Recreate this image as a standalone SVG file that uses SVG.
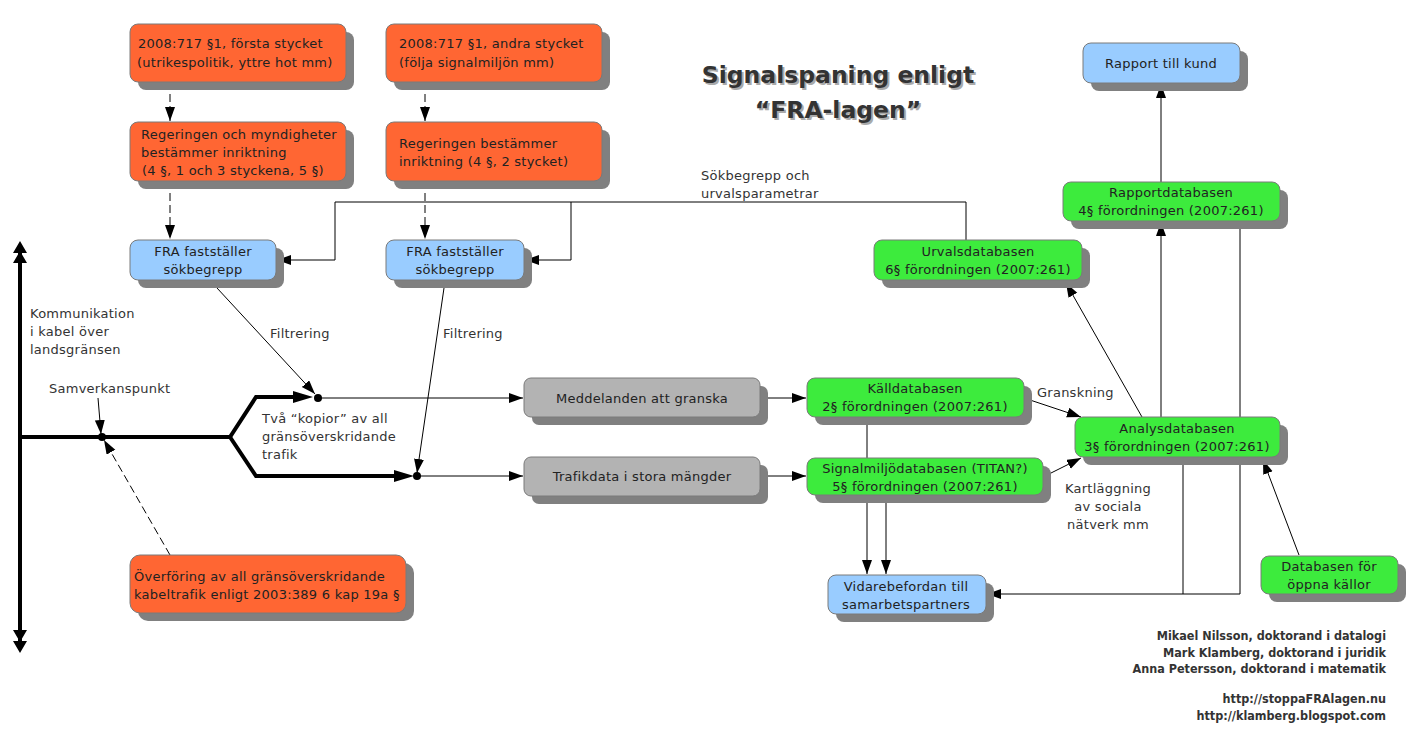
<svg xmlns="http://www.w3.org/2000/svg" width="1426" height="733" viewBox="0 0 1426 733">
<defs>
<style>
.box{stroke:#7a7a7a;stroke-width:1}
.sh{fill:#808080}
.or{fill:#FF6633}
.bl{fill:#99CCFF}
.gr{fill:#3DEB3D}
.gy{fill:#B3B3B3}
.t{font-family:"DejaVu Sans",sans-serif;font-size:13px;letter-spacing:0.25px;fill:#222}
.c{text-anchor:middle}
.lbl{font-family:"DejaVu Sans",sans-serif;font-size:13px;letter-spacing:0.25px;fill:#333}
.ln{fill:none;stroke:#000;stroke-width:1}
.ds{stroke-dasharray:8,4}
.thick{fill:none;stroke:#000;stroke-width:4}
.title{font-family:"DejaVu Sans",sans-serif;font-weight:bold;font-size:23.5px;text-anchor:middle}
.sig{font-family:"DejaVu Sans Condensed","DejaVu Sans",sans-serif;font-stretch:condensed;font-weight:bold;font-size:12.5px;fill:#333;text-anchor:end}
</style>
<marker id="arr" markerUnits="userSpaceOnUse" markerWidth="16" markerHeight="12" refX="14" refY="5" orient="auto">
<path d="M0,0 L14,5 L0,10 z" fill="#000"/>
</marker>
</defs>

<g id="connectors">
<line class="ln ds" x1="170" y1="82" x2="170" y2="121" marker-end="url(#arr)"/>
<line class="ln ds" x1="170" y1="181" x2="170" y2="239" marker-end="url(#arr)"/>
<line class="ln ds" x1="425" y1="82" x2="425" y2="121" marker-end="url(#arr)"/>
<line class="ln ds" x1="425" y1="181" x2="425" y2="239" marker-end="url(#arr)"/>
<polyline class="ln" points="966,240 966,202 335,202 335,260 277,260" marker-end="url(#arr)"/>
<polyline class="ln" points="571,202 571,260 525,260" marker-end="url(#arr)"/>
<line class="ln" x1="217" y1="288" x2="315" y2="394" marker-end="url(#arr)"/>
<line class="ln" x1="444" y1="288" x2="417" y2="473" marker-end="url(#arr)"/>
<line class="ln" x1="318" y1="398" x2="523" y2="398" marker-end="url(#arr)"/>
<line class="ln" x1="417" y1="476" x2="523" y2="476" marker-end="url(#arr)"/>
<line class="ln" x1="760" y1="398" x2="806" y2="398" marker-end="url(#arr)"/>
<line class="ln" x1="760" y1="476" x2="806" y2="476" marker-end="url(#arr)"/>
<line class="ln" x1="867" y1="417" x2="867" y2="458"/>
<line class="ln" x1="867" y1="495" x2="867" y2="574" marker-end="url(#arr)"/>
<line class="ln" x1="886" y1="495" x2="886" y2="574" marker-end="url(#arr)"/>
<line class="ln" x1="1024" y1="398" x2="1081" y2="417" marker-end="url(#arr)"/>
<line class="ln" x1="1043" y1="477" x2="1081" y2="458" marker-end="url(#arr)"/>
<line class="ln" x1="1142" y1="417" x2="1066" y2="283" marker-end="url(#arr)"/>
<line class="ln" x1="1161" y1="417" x2="1161" y2="222" marker-end="url(#arr)"/>
<line class="ln" x1="1161" y1="182" x2="1161" y2="84" marker-end="url(#arr)"/>
<polyline class="ln" points="1240,221 1240,594 987,594" marker-end="url(#arr)"/>
<line class="ln" x1="1183" y1="457" x2="1183" y2="594"/>
<line class="ln" x1="1299" y1="555" x2="1263" y2="460" marker-end="url(#arr)"/>
<line class="ln" x1="98" y1="398" x2="101" y2="434" marker-end="url(#arr)"/>
<line class="ln ds" x1="170" y1="555" x2="104" y2="440" marker-end="url(#arr)"/>
<line class="thick" x1="20" y1="250" x2="20" y2="644"/>
<polyline class="thick" points="20,437 230,437 256,397 300,397"/>
<polyline class="thick" points="230,437 256,476 400,476"/>
<path d="M293,391 L313,397 L293,403 z M394,470 L414,476 L394,482 z" fill="#000"/>
<path d="M13,253 L20,241 L27,253 z M13,263 L20,251 L27,263 z M13,630 L20,642 L27,630 z M13,641 L20,653 L27,641 z" fill="#000"/>
<circle cx="318" cy="398" r="4" fill="#000"/>
<circle cx="417" cy="476" r="4" fill="#000"/>
<circle cx="102" cy="437" r="4" fill="#000"/>
</g>

<g id="title">
<text class="title" x="840" y="85" fill="#aaa">Signalspaning enligt</text>
<text class="title" x="838" y="83" fill="#333">Signalspaning enligt</text>
<text class="title" x="840" y="120" fill="#aaa">“FRA-lagen”</text>
<text class="title" x="838" y="118" fill="#333">“FRA-lagen”</text>
</g>

<g id="n-lag1">
<rect class="sh" x="138" y="32" width="216" height="58" rx="8"/>
<rect class="box or" x="130" y="24" width="216" height="58" rx="8"/>
<text class="t" x="138" y="48">2008:717 §1, första stycket</text>
<text class="t" x="137" y="67">(utrikespolitik, yttre hot mm)</text>
</g>
<g id="n-lag2">
<rect class="sh" x="394" y="32" width="216" height="58" rx="8"/>
<rect class="box or" x="386" y="24" width="216" height="58" rx="8"/>
<text class="t" x="399" y="48">2008:717 §1, andra stycket</text>
<text class="t" x="399" y="67">(följa signalmiljön mm)</text>
</g>
<g id="n-reg1">
<rect class="sh" x="138" y="130" width="216" height="59" rx="8"/>
<rect class="box or" x="130" y="122" width="216" height="59" rx="8"/>
<text class="t" x="141" y="139">Regeringen och myndigheter</text>
<text class="t" x="141" y="157">bestämmer inriktning</text>
<text class="t" x="142" y="175">(4 §, 1 och 3 styckena, 5 §)</text>
</g>
<g id="n-reg2">
<rect class="sh" x="394" y="130" width="216" height="59" rx="8"/>
<rect class="box or" x="386" y="122" width="216" height="59" rx="8"/>
<text class="t" x="399" y="148">Regeringen bestämmer</text>
<text class="t" x="399" y="166">inriktning (4 §, 2 stycket)</text>
</g>
<g id="n-fra1">
<rect class="sh" x="138" y="248" width="146" height="40" rx="8"/>
<rect class="box bl" x="130" y="240" width="146" height="40" rx="8"/>
<text class="t c" x="203" y="256">FRA fastställer</text>
<text class="t c" x="203" y="274">sökbegrepp</text>
</g>
<g id="n-fra2">
<rect class="sh" x="394" y="248" width="138" height="40" rx="8"/>
<rect class="box bl" x="386" y="240" width="138" height="40" rx="8"/>
<text class="t c" x="455" y="256">FRA fastställer</text>
<text class="t c" x="455" y="274">sökbegrepp</text>
</g>
<g id="n-urval">
<rect class="sh" x="882" y="248" width="208" height="40" rx="8"/>
<rect class="box gr" x="874" y="240" width="208" height="40" rx="8"/>
<text class="t c" x="978" y="256">Urvalsdatabasen</text>
<text class="t c" x="978" y="274">6§ förordningen (2007:261)</text>
</g>
<g id="n-rapport">
<rect class="sh" x="1091" y="51" width="157" height="40" rx="8"/>
<rect class="box bl" x="1083" y="43" width="157" height="40" rx="8"/>
<text class="t c" x="1161" y="68">Rapport till kund</text>
</g>
<g id="n-rapportdb">
<rect class="sh" x="1071" y="190" width="217" height="39" rx="8"/>
<rect class="box gr" x="1063" y="182" width="217" height="39" rx="8"/>
<text class="t c" x="1171" y="197">Rapportdatabasen</text>
<text class="t c" x="1171" y="215">4§ förordningen (2007:261)</text>
</g>
<g id="n-medd">
<rect class="sh" x="532" y="386" width="236" height="39" rx="7"/>
<rect class="box gy" x="524" y="378" width="236" height="39" rx="7"/>
<text class="t c" x="642" y="403">Meddelanden att granska</text>
</g>
<g id="n-trafik">
<rect class="sh" x="532" y="465" width="236" height="39" rx="7"/>
<rect class="box gy" x="524" y="457" width="236" height="39" rx="7"/>
<text class="t c" x="642" y="481">Trafikdata i stora mängder</text>
</g>
<g id="n-kall">
<rect class="sh" x="815" y="386" width="217" height="39" rx="8"/>
<rect class="box gr" x="807" y="378" width="217" height="39" rx="8"/>
<text class="t c" x="915" y="393">Källdatabasen</text>
<text class="t c" x="915" y="411">2§ förordningen (2007:261)</text>
</g>
<g id="n-signal">
<rect class="sh" x="815" y="466" width="236" height="37" rx="8"/>
<rect class="box gr" x="807" y="458" width="236" height="37" rx="8"/>
<text class="t c" x="925" y="473">Signalmiljödatabasen (TITAN?)</text>
<text class="t c" x="925" y="491">5§ förordningen (2007:261)</text>
</g>
<g id="n-analys">
<rect class="sh" x="1083" y="425" width="205" height="40" rx="8"/>
<rect class="box gr" x="1075" y="417" width="205" height="40" rx="8"/>
<text class="t c" x="1177" y="433">Analysdatabasen</text>
<text class="t c" x="1177" y="451">3§ förordningen (2007:261)</text>
</g>
<g id="n-vidare">
<rect class="sh" x="836" y="583" width="158" height="39" rx="8"/>
<rect class="box bl" x="828" y="575" width="158" height="39" rx="8"/>
<text class="t c" x="906" y="591">Vidarebefordan till</text>
<text class="t c" x="906" y="609">samarbetspartners</text>
</g>
<g id="n-oppna">
<rect class="sh" x="1269" y="564" width="137" height="38" rx="8"/>
<rect class="box gr" x="1261" y="556" width="137" height="38" rx="8"/>
<text class="t c" x="1329" y="571">Databasen för</text>
<text class="t c" x="1329" y="589">öppna källor</text>
</g>
<g id="n-overforing">
<rect class="sh" x="138" y="563" width="276" height="58" rx="10"/>
<rect class="box or" x="130" y="555" width="276" height="58" rx="10"/>
<text class="t" x="134" y="581">Överföring av all gränsöverskridande</text>
<text class="t" x="134" y="599">kabeltrafik enligt 2003:389 6 kap 19a §</text>
</g>

<g id="labels">
<text class="lbl" x="701" y="180">Sökbegrepp och</text>
<text class="lbl" x="701" y="198">urvalsparametrar</text>
<text class="lbl" x="270" y="338">Filtrering</text>
<text class="lbl" x="443" y="338">Filtrering</text>
<text class="lbl" x="30" y="318">Kommunikation</text>
<text class="lbl" x="30" y="336">i kabel över</text>
<text class="lbl" x="30" y="354">landsgränsen</text>
<text class="lbl" x="49" y="393">Samverkanspunkt</text>
<text class="lbl" x="262" y="423">Två “kopior” av all</text>
<text class="lbl" x="262" y="441">gränsöverskridande</text>
<text class="lbl" x="262" y="459">trafik</text>
<text class="lbl" x="1037" y="397">Granskning</text>
<text class="lbl c" x="1108" y="493">Kartläggning</text>
<text class="lbl c" x="1108" y="511">av sociala</text>
<text class="lbl c" x="1108" y="529">nätverk mm</text>
<text class="sig" x="1386" y="640">Mikael Nilsson, doktorand i datalogi</text>
<text class="sig" x="1386" y="657">Mark Klamberg, doktorand i juridik</text>
<text class="sig" x="1386" y="673">Anna Petersson, doktorand i matematik</text>
<text class="sig" x="1386" y="703">http://stoppaFRAlagen.nu</text>
<text class="sig" x="1386" y="720">http://klamberg.blogspot.com</text>
</g>
</svg>
